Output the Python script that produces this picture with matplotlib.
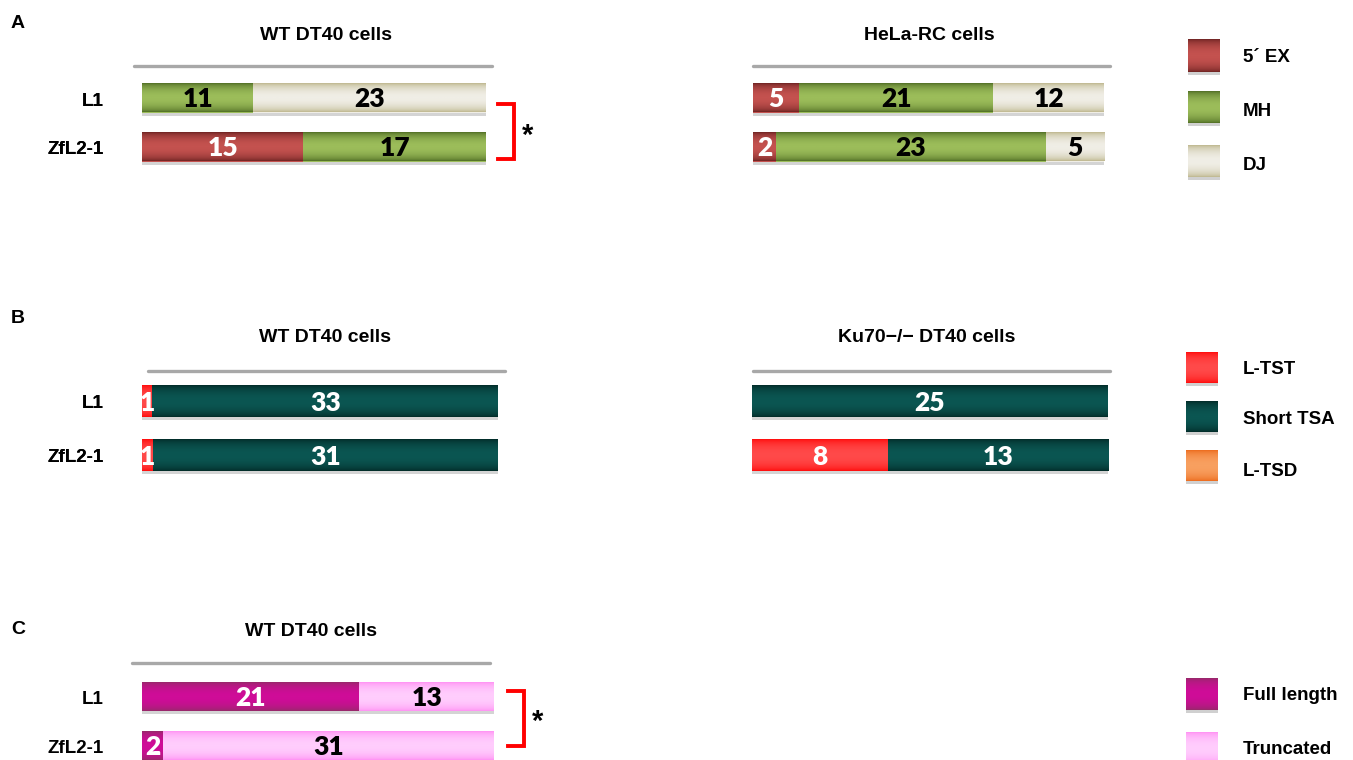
import numpy as np
import matplotlib
matplotlib.use("Agg")
import matplotlib.pyplot as plt
from matplotlib.colors import LinearSegmentedColormap
from matplotlib.patches import Rectangle
import matplotlib.transforms as mtransforms

# ---------------- data ----------------
rows = ["L1", "ZfL2-1"]

a_cats = ["5\u00b4 EX", "MH", "DJ"]
a_wt_ex = [0, 15]
a_wt_mh = [11, 17]
a_wt_dj = [23, 0]
a_hela_ex = [5, 2]
a_hela_mh = [21, 23]
a_hela_dj = [12, 5]

b_cats = ["L-TST", "Short TSA", "L-TSD"]
b_wt_tst = [1, 1]
b_wt_tsa = [33, 31]
b_wt_tsd = [0, 0]
b_ku_tst = [0, 8]
b_ku_tsa = [25, 13]
b_ku_tsd = [0, 0]

c_cats = ["Full length", "Truncated"]
c_full = [21, 2]
c_trunc = [13, 31]

titles = ["WT DT40 cells", "HeLa-RC cells", "WT DT40 cells",
          "Ku70\u2212/\u2212 DT40 cells", "WT DT40 cells"]

# ---------------- style ----------------
W, H = 1353, 760
# (edge colour, middle colour, text colour)
STY = {
    "5\u00b4 EX": ("#6e2322", "#c4524f", "white"),
    "MH": ("#4f6d24", "#9cbd5a", "black"),
    "DJ": ("#bdb68c", "#f0eee6", "black"),
    "L-TST": ("#ff0a0a", "#ff4a4a", "white"),
    "Short TSA": ("#022a27", "#0b5652", "white"),
    "L-TSD": ("#ec6a1c", "#f8a060", "black"),
    "Full length": ("#952a68", "#cf0c98", "white"),
    "Truncated": ("#ff90f3", "#ffcdfd", "black"),
}
LAB_FONT = "Liberation Sans"
NUM_FONT = "Lato"

fig = plt.figure(figsize=(W / 100, H / 100), dpi=100)
fig.patch.set_facecolor("white")

prof = np.sin(np.linspace(0, np.pi, 64)) ** 0.6
grad = prof[:, None]


def cmap_for(cat):
    e, m, _ = STY[cat]
    return LinearSegmentedColormap.from_list(cat, [e, m])


def fx(x):
    return x / W


def fy(y):
    return 1 - y / H


overlay = fig.add_axes([0, 0, 1, 1], zorder=5)
overlay.set_xlim(0, W)
overlay.set_ylim(H, 0)
overlay.axis("off")


def panel(x0, x1, c0, c1, bh, cats, series, title, tx, ty, line):
    s = c1 - c0
    top = c0 - s / 2
    bot = c1 + s / 2
    ax = fig.add_axes([fx(x0), fy(bot), fx(x1 - x0), (bot - top) / H])
    ax.set_xlim(0, 1)
    ax.set_ylim(1.5, -0.5)
    ax.axis("off")
    h = bh / s
    totals = np.sum(np.array(series, dtype=float), axis=0)
    left = np.zeros(len(rows))
    ypos = np.arange(len(rows))
    # shadow
    ax.barh(ypos + 3.0 / s, np.ones(len(rows)), left=0, height=h,
            color="#d4d4d4", zorder=1)
    for cat, vals in zip(cats, series):
        frac = np.array(vals) / totals
        bars = ax.barh(ypos, frac, left=left, height=h, color=STY[cat][1],
                       zorder=2)
        for b, v in zip(bars, vals):
            if v <= 0:
                continue
            bx, by, bw, bhh = b.get_x(), b.get_y(), b.get_width(), b.get_height()
            ax.imshow(grad, cmap=cmap_for(cat), vmin=0, vmax=1,
                      extent=[bx, bx + bw, by + bhh, by], aspect="auto",
                      interpolation="bilinear", zorder=3)
            ax.text(bx + bw / 2, by + bhh / 2 + 0.03, str(v), ha="center",
                    va="center", fontsize=19, fontfamily=NUM_FONT,
                    fontweight="heavy", color=STY[cat][2], zorder=4)
        left = left + frac
    ax.set_xlim(0, 1)
    ax.set_ylim(1.5, -0.5)
    tr = mtransforms.offset_copy(ax.get_yaxis_transform(), fig=fig,
                                 x=-(x0 - 104), y=-3, units="dots")
    for i, r in enumerate(rows):
        ax.text(0, i, r, transform=tr, ha="right", va="center",
                fontsize=13.5, fontfamily=LAB_FONT, fontweight="bold")
    fig.text(fx(tx), fy(ty), title, ha="center", va="center", fontsize=14,
             fontfamily=LAB_FONT, fontweight="bold")
    lx0, lx1, ly = line
    overlay.plot([lx0, lx1], [ly, ly], color="#a8a8a8", lw=2.4,
                 solid_capstyle="round")
    return ax


def legend(x0, items):
    for cat, (y0, y1, ly) in items:
        overlay.add_patch(Rectangle((x0, y1), 32, 3, color="#d0d0d0", lw=0))
        overlay.imshow(grad, cmap=cmap_for(cat), vmin=0, vmax=1,
                       extent=[x0, x0 + 32, y1, y0], aspect="auto",
                       interpolation="bilinear")
        overlay.text(1243, ly, cat, ha="left", va="center", fontsize=13.5,
                     fontfamily=LAB_FONT, fontweight="bold")
    overlay.set_xlim(0, W)
    overlay.set_ylim(H, 0)


def bracket(x0, x1, y0, y1, sx, sy):
    overlay.plot([x0, x1, x1, x0], [y0, y0, y1, y1], color="#ff0000",
                 lw=2.8, solid_joinstyle="miter")
    overlay.text(sx, sy, "*", ha="center", va="center", fontsize=21,
                 fontfamily=LAB_FONT, fontweight="bold")


# panel letters
for letter, y in [("A", 23), ("B", 318), ("C", 629)]:
    fig.text(fx(11), fy(y), letter, ha="left", va="center", fontsize=14,
             fontfamily=LAB_FONT, fontweight="bold")

# Panel A
panel(142, 486, 98, 147, 29, a_cats, [a_wt_ex, a_wt_mh, a_wt_dj],
      titles[0], 326, 35, (134, 492, 66))
panel(753, 1104, 98, 147, 29, a_cats, [a_hela_ex, a_hela_mh, a_hela_dj],
      titles[1], 929, 35, (753, 1110, 66))
bracket(498, 514, 104, 159, 528, 136)
legend(1188, [(a_cats[0], (39, 72, 58)), (a_cats[1], (91, 123, 111)),
              (a_cats[2], (145, 177, 165))])

# Panel B
panel(142, 498, 401, 455, 32, b_cats, [b_wt_tst, b_wt_tsa, b_wt_tsd],
      titles[2], 325, 338, (148, 505, 371))
panel(752, 1108, 401, 455, 32, b_cats, [b_ku_tst, b_ku_tsa, b_ku_tsd],
      titles[3], 927, 338, (753, 1110, 371))
legend(1186, [(b_cats[0], (352, 383, 369)), (b_cats[1], (401, 432, 420)),
              (b_cats[2], (450, 481, 472))])

# Panel C
panel(142, 494, 697, 746, 29, c_cats, [c_full, c_trunc],
      titles[4], 311, 632, (132, 490, 663))
bracket(508, 524, 691, 746, 538, 722)
legend(1186, [(c_cats[0], (678, 710, 695)), (c_cats[1], (732, 764, 750))])

fig.savefig("out.png", dpi=100, facecolor="white")
